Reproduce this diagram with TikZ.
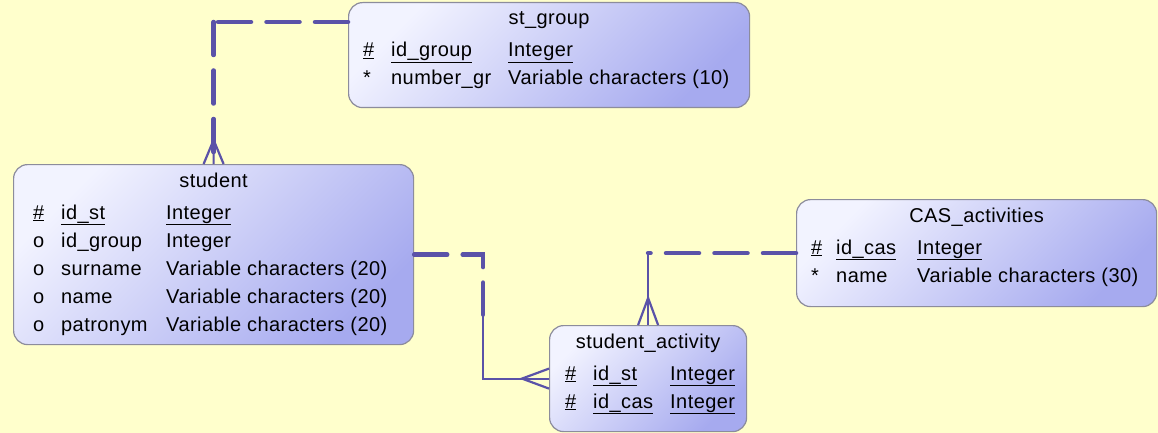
\documentclass[tikz,border=0pt]{standalone}
\usepackage{fontspec}
\setmainfont{Liberation Sans}[LetterSpace=2.2]
\usetikzlibrary{calc}
\definecolor{ERBack}{HTML}{FFFFCC}
\definecolor{ERLine}{HTML}{5A52A8}
\definecolor{ERTop}{HTML}{F2F3FF}
\definecolor{ERBottom}{HTML}{A6AAEF}
\definecolor{ERBorder}{HTML}{8C8C9C}

\begin{document}
\begin{tikzpicture}[
    % 像素坐标:1px = 1pt,y 轴向下
    x=1pt, y=-1pt,
    font=\fontsize{20}{24}\selectfont,
    % 样式定义
    entity/.style={
        draw=ERBorder,
        line width=1.2pt,
        rounded corners=14pt,
        inner sep=0pt,
        anchor=north west,
        top color=ERTop, bottom color=ERBottom, shading angle=45
    },
    title/.style={anchor=base, inner sep=0pt},
    field/.style={anchor=base west, inner sep=0pt},
    optline/.style={ERLine, line width=4.5pt, line cap=round, dash pattern=on 33pt off 15.5pt},
    reqline/.style={ERLine, line width=2.2pt},
    crowfoot/.style={ERLine, line width=2.2pt}
]

    % ====== 0. 背景 ======
    \fill[ERBack] (0,0) rectangle (1158,433);
    \useasboundingbox (0,0) rectangle (1158,433);

    % ====== 1. 实体方框 ======
    \node[entity, minimum width=401pt, minimum height=105pt] (stgroup)  at (348,2)   {};
    \node[entity, minimum width=400pt, minimum height=180pt] (student)  at (13,164)  {};
    \node[entity, minimum width=197pt, minimum height=106pt] (activity) at (549,325) {};
    \node[entity, minimum width=360pt, minimum height=107pt] (cas)      at (796,199) {};

    % ====== 2. 表名与字段 ======
    \node[title] (stgroup-t) at ($(stgroup.north)+(0,23)$) {st\_group};
    \foreach \m/\n/\t [count=\i from 0] in {
        \underline{\#}/\underline{id\_group}/\underline{Integer},
        */number\_gr/Variable characters (10)} {
        \node[field] (stgroup-m\i) at ($(stgroup.north west)+(15,{55+28*\i})$)  {\m};
        \node[field] (stgroup-n\i) at ($(stgroup.north west)+(43,{55+28*\i})$)  {\n};
        \node[field] (stgroup-y\i) at ($(stgroup.north west)+(160,{55+28*\i})$) {\t};
    }

    \node[title] (student-t) at ($(student.north)+(0,23)$) {student};
    \foreach \m/\n/\t [count=\i from 0] in {
        \underline{\#}/\underline{id\_st}/\underline{Integer},
        o/id\_group/Integer,
        o/surname/Variable characters (20),
        o/name/Variable characters (20),
        o/patronym/Variable characters (20)} {
        \node[field] (student-m\i) at ($(student.north west)+(20,{55+28*\i})$)  {\m};
        \node[field] (student-n\i) at ($(student.north west)+(48,{55+28*\i})$)  {\n};
        \node[field] (student-y\i) at ($(student.north west)+(153,{55+28*\i})$) {\t};
    }

    \node[title] (activity-t) at ($(activity.north)+(0,23)$) {student\_activity};
    \foreach \m/\n/\t [count=\i from 0] in {
        \underline{\#}/\underline{id\_st}/\underline{Integer},
        \underline{\#}/\underline{id\_cas}/\underline{Integer}} {
        \node[field] (activity-m\i) at ($(activity.north west)+(16,{55+28*\i})$)  {\m};
        \node[field] (activity-n\i) at ($(activity.north west)+(44,{55+28*\i})$)  {\n};
        \node[field] (activity-y\i) at ($(activity.north west)+(121,{55+28*\i})$) {\t};
    }

    \node[title] (cas-t) at ($(cas.north)+(0,23)$) {CAS\_activities};
    \foreach \m/\n/\t [count=\i from 0] in {
        \underline{\#}/\underline{id\_cas}/\underline{Integer},
        */name/Variable characters (30)} {
        \node[field] (cas-m\i) at ($(cas.north west)+(15,{55+28*\i})$)  {\m};
        \node[field] (cas-n\i) at ($(cas.north west)+(40,{55+28*\i})$)  {\n};
        \node[field] (cas-y\i) at ($(cas.north west)+(121,{55+28*\i})$) {\t};
    }

    % ====== 3. 关系连线 ======
    % st_group -> student (一对多)
    \coordinate (sg-in)   at ($(stgroup.north west)+(0,20)$);
    \coordinate (sg-bend) at (student.north |- sg-in);
    \coordinate (stu-end) at ($(student.north)+(0,-9)$);
    \coordinate (stu-cf)  at ($(student.north)+(0,-24)$);
    \draw[optline] (sg-in) -- (sg-bend);
    \draw[optline] (sg-bend) -- (stu-end);
    \draw[crowfoot] ($(student.north)+(-10,0)$) -- (stu-cf) -- ($(student.north)+(10,0)$)
                    (stu-cf) -- (student.north);

    % student -> student_activity
    \coordinate (sa-bend1) at ($(student.east)+(69,0)$);
    \coordinate (sa-mid)   at ($(student.east)+(69,60)$);
    \coordinate (sa-bend2) at (sa-bend1 |- activity.west);
    \coordinate (sa-cf)    at ($(activity.west)+(-27,0)$);
    \draw[optline] (student.east) -- (sa-bend1) -- (sa-mid);
    \draw[reqline] (sa-mid) -- (sa-bend2) -- (activity.west);
    \draw[crowfoot] ($(activity.west)+(0,-10)$) -- (sa-cf) -- ($(activity.west)+(0,10)$);

    % CAS_activities -> student_activity
    \coordinate (cas-bend) at (activity.north |- cas.west);
    \coordinate (cas-cf)   at ($(activity.north)+(0,-27)$);
    \draw[optline] (cas.west) -- (cas-bend);
    \draw[reqline] (cas-bend) -- (activity.north);
    \draw[crowfoot] ($(activity.north)+(-10,0)$) -- (cas-cf) -- ($(activity.north)+(10,0)$);

\end{tikzpicture}
\end{document}
